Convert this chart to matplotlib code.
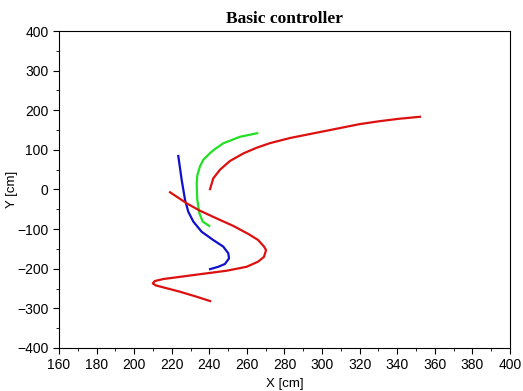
import matplotlib
matplotlib.use("Agg")
import matplotlib.pyplot as plt
from matplotlib.ticker import MultipleLocator

title = "Basic controller"
xlabel = "X [cm]"
ylabel = "Y [cm]"

red1_x = [240.4, 242.1, 245.7, 251.0, 258.1, 265.0, 272.3, 283.0, 293.6, 309.5, 320.0, 330.8, 341.0, 352.1]
red1_y = [1.0, 28.0, 50.0, 72.0, 91.0, 105.0, 117.0, 130.0, 140.0, 155.0, 165.0, 172.5, 178.5, 183.5]

green_x = [265.5, 256.3, 247.4, 243.0, 240.4, 236.8, 235.0, 233.6, 233.3, 233.4, 233.6, 234.7, 236.5, 240.0]
green_y = [142.0, 133.0, 116.5, 102.0, 92.0, 75.0, 58.0, 35.0, 15.0, -5.0, -26.0, -60.0, -81.0, -92.0]

blue_x = [223.5, 225.3, 227.1, 228.8, 231.5, 235.9, 242.1, 247.4, 250.1, 250.5, 248.3, 244.8, 240.4]
blue_y = [84.6, 24.0, -26.5, -56.0, -81.0, -106.5, -127.5, -144.0, -161.0, -174.0, -188.0, -195.0, -201.0]

red2_x = [219.1, 228.0, 235.0, 243.9, 252.8, 260.7, 266.0, 269.1, 270.2, 269.1, 266.0, 259.9, 249.2,
          231.5, 215.5, 211.0, 209.9, 211.5, 215.5, 224.4, 233.3, 240.4]
red2_y = [-7.0, -35.0, -53.5, -73.0, -92.0, -112.0, -127.5, -144.0, -153.0, -170.0, -182.0, -195.0, -205.0,
          -216.0, -226.0, -231.0, -237.0, -242.0, -247.0, -258.0, -270.7, -281.5]

fig = plt.figure(figsize=(5.23, 3.91), dpi=100)
ax = fig.add_axes([0.1128, 0.110, 0.975 - 0.1128, 0.9207 - 0.110])

ax.plot(red1_x, red1_y, color="#dd1010", lw=1.6)
ax.plot(green_x, green_y, color="#22e022", lw=1.6)
ax.plot(blue_x, blue_y, color="#1010cc", lw=1.6)
ax.plot(red2_x, red2_y, color="#dd1010", lw=1.6)

ax.set_xlim(160, 400)
ax.set_ylim(-400, 400)
ax.xaxis.set_major_locator(MultipleLocator(20))
ax.xaxis.set_minor_locator(MultipleLocator(10))
ax.yaxis.set_major_locator(MultipleLocator(100))
ax.yaxis.set_minor_locator(MultipleLocator(50))
ax.tick_params(which="both", direction="out", top=False, right=False, labelsize=10, colors="black")
ax.tick_params(which="major", length=4)
ax.tick_params(which="minor", length=2)
for lab in ax.get_xticklabels() + ax.get_yticklabels():
    lab.set_family("Liberation Sans")
for s in ax.spines.values():
    s.set_linewidth(0.8)

ax.set_xlabel(xlabel, family="Liberation Sans", fontsize=9.5, labelpad=4)
ax.set_ylabel(ylabel, family="Liberation Sans", fontsize=9.5)
ax.yaxis.set_label_coords(-0.09, 0.5)
ax.set_title(title, family="Liberation Serif", fontweight="bold", fontsize=12.5, pad=6)

fig.savefig("out.png", dpi=100)
